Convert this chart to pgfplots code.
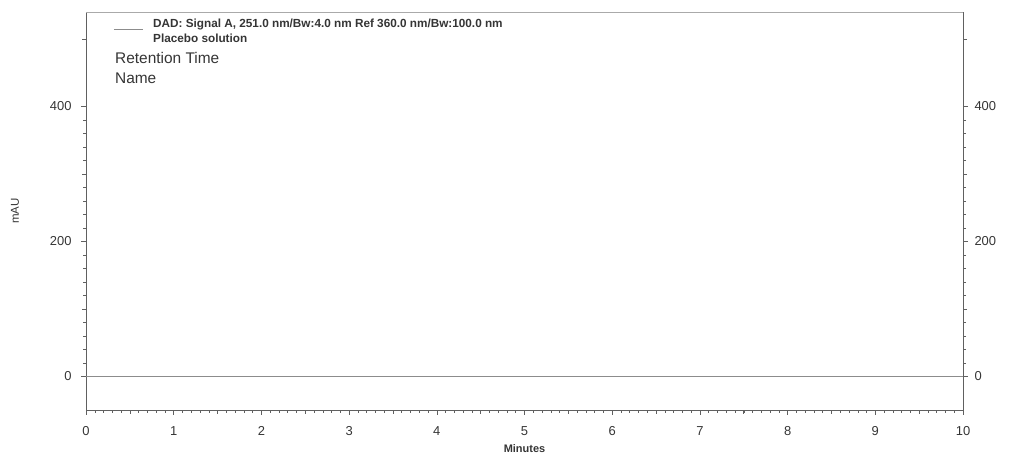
\documentclass[border=0pt]{standalone}
\usepackage{fontspec}
\setmainfont{Liberation Sans}
\usepackage{pgfplots}
\pgfplotsset{compat=1.18}
\definecolor{axcol}{HTML}{606060}
\definecolor{txtcol}{HTML}{353535}
\definecolor{sigcol}{HTML}{8C8C8C}
\definecolor{topcol}{HTML}{AAAAAA}
\begin{document}
\begin{tikzpicture}
\pgfplotsset{
  chrom/.style={
    scale only axis, width=877bp, height=398bp,
    xmin=0, xmax=10, ymin=-50, ymax=540,
    tick align=outside,
    major tick length=5bp, minor tick length=3bp,
    every tick/.style={axcol, line width=0.6pt},
    every minor tick/.style={axcol, line width=0.5pt},
    axis line style={axcol, line width=0.8pt},
    /pgf/number format/assume math mode=true,
    tick label style={font=\fontsize{13}{13}\selectfont, text=txtcol},
    ytick={0,200,400}, minor y tick num=9,
    extra y ticks={100,300,500}, extra y tick labels={},
    extra y tick style={major tick length=4bp},
  }
}
\begin{axis}[chrom, name=ax,
  axis x line*=bottom, axis y line*=left,
  xtick={0,1,...,10}, minor x tick num=9,
  extra x ticks={0.5,1.5,2.5,3.5,4.5,5.5,6.5,7.5,8.5,9.5}, extra x tick labels={},
  extra x tick style={major tick length=4bp},
  xticklabel style={yshift=-8bp},
  yticklabel style={xshift=-6bp},
  xlabel={Minutes}, ylabel={mAU},
  every axis x label/.style={at={(rel axis cs:0.5,-0.098)}, anchor=center, font=\fontsize{11}{11}\selectfont\bfseries, text=txtcol},
  every axis y label/.style={at={(rel axis cs:-0.081,0.5)}, anchor=center, rotate=90, font=\fontsize{11.5}{11.5}\selectfont, text=txtcol},
  clip=false,
]
\addplot[sigcol, line width=0.8pt] coordinates {
(0,0) (0.5,0) (1,0) (1.5,0) (2,0) (2.5,0) (3,0) (3.5,0) (4,0) (4.5,0)
(5,0) (5.5,0) (6,0) (6.5,0) (7,0) (7.5,0) (8,0) (8.5,0) (9,0) (9.5,0) (10,0)
};
\draw[topcol, line width=0.8pt] (rel axis cs:0,1) -- (rel axis cs:1,1);
\draw[sigcol, line width=0.8pt] (rel axis cs:0.0319,0.957) -- (rel axis cs:0.065,0.957);
\node[anchor=west, inner sep=0pt, font=\fontsize{11.8}{11.8}\selectfont\bfseries, text=txtcol] at (rel axis cs:0.0764,0.968) {DAD: Signal A, 251.0 nm/Bw:4.0 nm Ref 360.0 nm/Bw:100.0 nm};
\node[anchor=west, inner sep=0pt, font=\fontsize{11.8}{11.8}\selectfont\bfseries, text=txtcol] at (rel axis cs:0.0764,0.935) {Placebo solution};
\node[anchor=west, inner sep=0pt, font=\fontsize{15.5}{15.5}\selectfont, text=txtcol] at (rel axis cs:0.033,0.884) {Retention Time};
\node[anchor=west, inner sep=0pt, font=\fontsize{15.5}{15.5}\selectfont, text=txtcol] at (rel axis cs:0.033,0.834) {Name};
\end{axis}
\begin{axis}[chrom,
  axis x line=none, axis y line*=right,
  yticklabel pos=right,
  yticklabel style={xshift=3bp},
]
\end{axis}
\path[use as bounding box] ([xshift=-86bp,yshift=-46bp]ax.south west) rectangle ([xshift=64bp,yshift=12bp]ax.north east);
\end{tikzpicture}
\end{document}
